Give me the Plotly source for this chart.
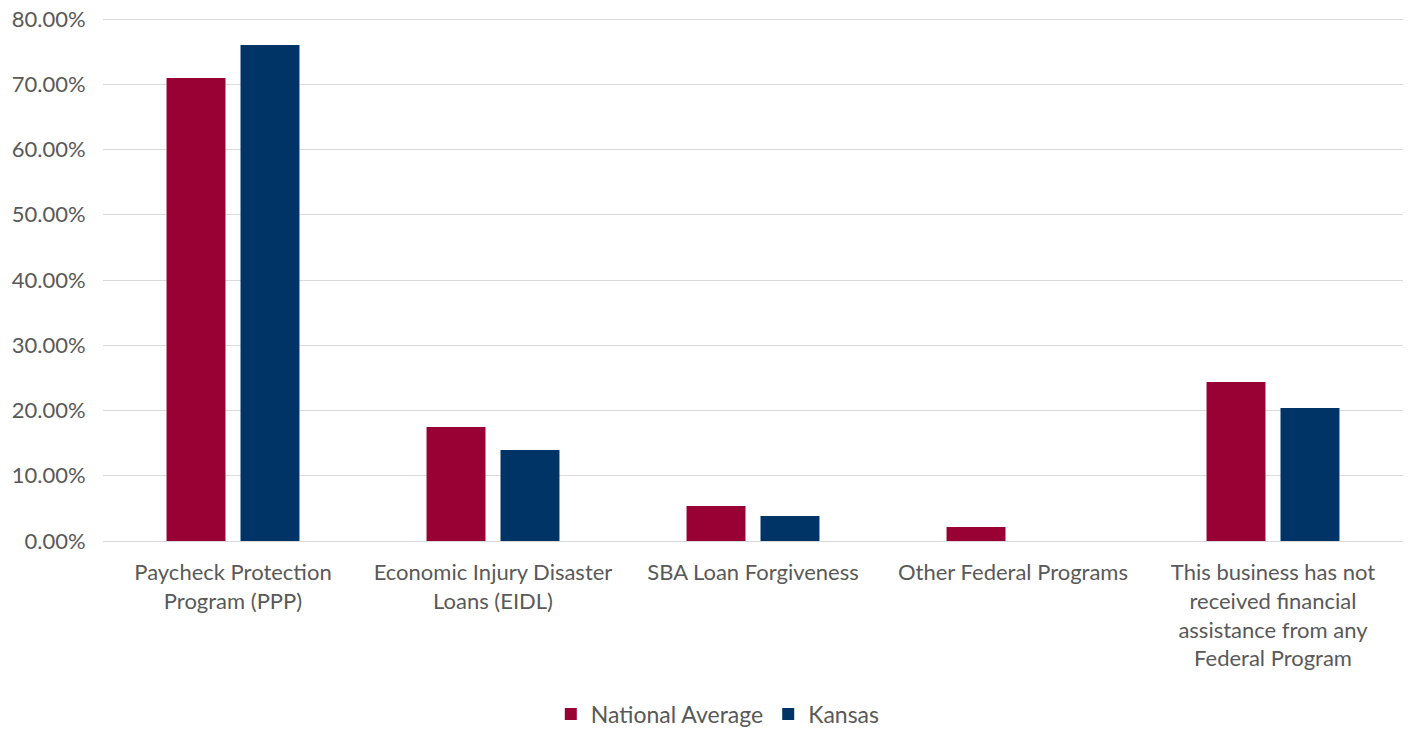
import plotly.graph_objects as go

categories = [
    "Paycheck Protection<br>Program (PPP)",
    "Economic Injury Disaster<br>Loans (EIDL)",
    "SBA Loan Forgiveness",
    "Other Federal Programs",
    "This business has not<br>received financial<br>assistance from any<br>Federal Program",
]
national_average = [0.7096, 0.1747, 0.0536, 0.0215, 0.2437]
kansas = [0.7601, 0.1395, 0.0383, 0.0, 0.2038]
y_ticks = [0, 0.1, 0.2, 0.3, 0.4, 0.5, 0.6, 0.7, 0.8]

FONT = "Lato"
TXT = "#595959"
FS = 22

fig = go.Figure()
fig.add_trace(go.Bar(name="National Average", x=categories, y=national_average,
                     marker=dict(color="#990033", line=dict(width=0))))
fig.add_trace(go.Bar(name="Kansas", x=categories, y=kansas,
                     marker=dict(color="#003366", line=dict(width=0))))

fig.update_layout(
    width=1413, height=730,
    margin=dict(l=103, r=10, t=16, b=189, autoexpand=False),
    paper_bgcolor="white", plot_bgcolor="white",
    barmode="group", bargap=0.431, bargroupgap=0.203,
    font=dict(family=FONT, size=FS, color=TXT),
    showlegend=True,
    legend=dict(orientation="h", xref="container", yref="container",
                x=0.508, xanchor="center", y=0.022, yanchor="middle",
                font=dict(family=FONT, size=23, color=TXT), traceorder="normal"),
    xaxis=dict(showgrid=False, showline=False, ticks="outside", ticklen=12,
               tickcolor="rgba(0,0,0,0)", tickangle=0, automargin=False,
               tickfont=dict(family=FONT, size=FS, color=TXT)),
    yaxis=dict(range=[0, 0.8046], tickvals=y_ticks, tickformat=".2%",
               showgrid=True, gridcolor="#d9d9d9", gridwidth=1.3,
               zeroline=True, zerolinecolor="#d9d9d9", zerolinewidth=1.3,
               showline=False, ticks="outside", ticklen=12, tickcolor="rgba(0,0,0,0)",
               automargin=False,
               tickfont=dict(family=FONT, size=FS, color=TXT)),
)

fig.write_html("out.html", config={"displayModeBar": False},
               post_script="document.body.style.margin='0px';")
